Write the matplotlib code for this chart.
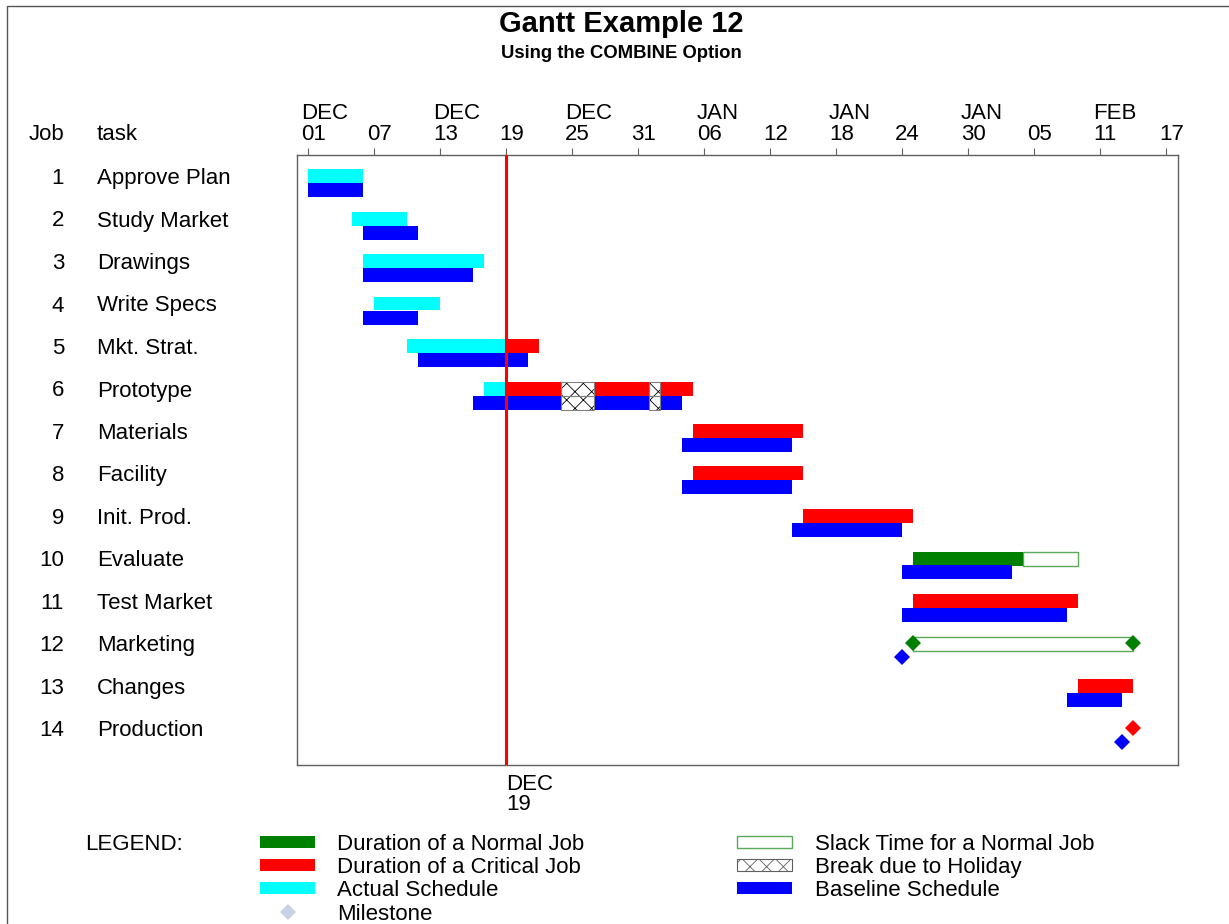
import matplotlib
matplotlib.use('Agg')
import matplotlib.pyplot as plt
import matplotlib.dates as mdates
from matplotlib.patches import Rectangle
from matplotlib.lines import Line2D
from matplotlib.transforms import blended_transform_factory, ScaledTranslation

plt.rcParams['font.family'] = ['Liberation Sans', 'DejaVu Sans']
plt.rcParams['hatch.linewidth'] = 0.6

jobs = list(range(1, 15))
tasks = ['Approve Plan', 'Study Market', 'Drawings', 'Write Specs', 'Mkt. Strat.',
         'Prototype', 'Materials', 'Facility', 'Init. Prod.', 'Evaluate',
         'Test Market', 'Marketing', 'Changes', 'Production']

# actual schedule (cyan), up to the time-now line
act_start = ['2003-12-01', '2003-12-05', '2003-12-06', '2003-12-07', '2003-12-10',
             '2003-12-17', None, None, None, None, None, None, None, None]
act_end = ['2003-12-06', '2003-12-10', '2003-12-17', '2003-12-13', '2003-12-19',
           '2003-12-19', None, None, None, None, None, None, None, None]

# remaining schedule (red = critical, green = normal)
sched_start = [None, None, None, None, '2003-12-19', '2003-12-19', '2004-01-05',
               '2004-01-05', '2004-01-15', '2004-01-25', '2004-01-25', '2004-01-25',
               '2004-02-09', '2004-02-14']
sched_end = [None, None, None, None, '2003-12-22', '2004-01-05', '2004-01-15',
             '2004-01-15', '2004-01-25', '2004-02-04', '2004-02-09', '2004-01-25',
             '2004-02-14', '2004-02-14']
critical = [True, True, True, True, True, True, True, True, True, False, True, False,
            True, True]
slack_end = [None, None, None, None, None, None, None, None, None, '2004-02-09',
             None, '2004-02-14', None, None]

# baseline schedule (blue)
base_start = ['2003-12-01', '2003-12-06', '2003-12-06', '2003-12-06', '2003-12-11',
              '2003-12-16', '2004-01-04', '2004-01-04', '2004-01-14', '2004-01-24',
              '2004-01-24', '2004-01-24', '2004-02-08', '2004-02-13']
base_end = ['2003-12-06', '2003-12-11', '2003-12-16', '2003-12-11', '2003-12-21',
            '2004-01-04', '2004-01-14', '2004-01-14', '2004-01-24', '2004-02-03',
            '2004-02-08', '2004-01-24', '2004-02-13', '2004-02-13']

holidays = [('2003-12-24', '2003-12-27'), ('2004-01-01', '2004-01-02')]
timenow = '2003-12-19'
axis_start = '2003-11-30'
tick_start = '2003-12-01'

d = mdates.datestr2num
GREEN, RED, CYAN, BLUE = '#008000', '#ff0000', '#00ffff', '#0000ff'
SLACK = '#5aaa5a'
FRAME = '#606060'

fig = plt.figure(figsize=(12.29, 9.24), dpi=100)
W, H = 1229, 924
ax = fig.add_axes([297 / W, 1 - 765 / H, 881 / W, 610 / H])
pax = fig.add_axes([0, 0, 1, 1], facecolor='none')
pax.set_xlim(0, W)
pax.set_ylim(H, 0)
pax.axis('off')

down = ScaledTranslation(0, -2.5 / 100, fig.dpi_scale_trans)
h = 14 / 42.5  # bar height in row units


def hatch_over(y, s, e):
    for hs, he in holidays:
        a, b = max(d(s), d(hs)), min(d(e), d(he))
        if b > a:
            ax.add_patch(Rectangle((a, y - h / 2), b - a, h, facecolor='white',
                                   edgecolor='black', hatch='xx', lw=0, zorder=3))
            ax.add_patch(Rectangle((a, y - h / 2), b - a, h, facecolor='none',
                                   edgecolor='#808080', lw=0.8, zorder=3.5))


for i, job in enumerate(jobs):
    top = job
    bot = job + h
    # actual
    if act_start[i]:
        ax.barh(top, d(act_end[i]) - d(act_start[i]), left=d(act_start[i]), height=h,
                color=CYAN, lw=0, zorder=2)
    # slack
    if slack_end[i]:
        ax.barh(top, d(slack_end[i]) - d(sched_end[i]), left=d(sched_end[i]), height=h,
                facecolor='white', edgecolor=SLACK, lw=1.0, zorder=2)
    # scheduled
    if sched_start[i]:
        col = RED if critical[i] else GREEN
        if sched_start[i] == sched_end[i]:
            xs = [d(sched_start[i])]
            if slack_end[i]:
                xs.append(d(slack_end[i]))
            ax.plot(xs, [top] * len(xs), 'D', color=col, ms=8.3, mew=0, zorder=4)
        else:
            ax.barh(top, d(sched_end[i]) - d(sched_start[i]), left=d(sched_start[i]),
                    height=h, color=col, lw=0, zorder=2)
            hatch_over(top, sched_start[i], sched_end[i])
    # baseline
    if base_start[i] == base_end[i]:
        ax.plot([d(base_start[i])], [bot], 'D', color=BLUE, ms=8.3, mew=0, zorder=4)
    else:
        ax.barh(bot, d(base_end[i]) - d(base_start[i]), left=d(base_start[i]), height=h,
                color=BLUE, lw=0, zorder=2)
        hatch_over(bot, base_start[i], base_end[i])

ax.axvline(d(timenow), color=RED, lw=2.2, zorder=5)

ax.set_xlim(d(axis_start), d(axis_start) + 80.1)
ax.set_ylim(1 + (765 - 176) / 42.5, 1 - 21 / 42.5)
ax.set_yticks([])
for sp in ax.spines.values():
    sp.set_color(FRAME)
    sp.set_linewidth(1.0)

ticks = [d(tick_start) + 6 * k for k in range(14)]
labels = []
for k, t in enumerate(ticks):
    dt = mdates.num2date(t)
    mon = dt.strftime('%b').upper() if k % 2 == 0 else ''
    labels.append(mon + '\n' + dt.strftime('%d'))
ax.xaxis.tick_top()
ax.set_xticks(ticks)
ax.set_xticklabels(labels, fontsize=16, ha='left', linespacing=1.0)
ax.tick_params(axis='x', direction='out', length=5, width=0.8, color=FRAME, pad=2.5)
off = ScaledTranslation(-7 / 100, 0, fig.dpi_scale_trans)
for lab in ax.get_xticklabels():
    lab.set_transform(lab.get_transform() + off)

# left columns
tr = blended_transform_factory(pax.transData, ax.transData) + down
hy = 1 + (132 - 176) / 42.5
ax.text(64, hy, 'Job', transform=tr, ha='right', va='center', fontsize=16)
ax.text(97, hy, 'task', transform=tr, ha='left', va='center', fontsize=16)
for job, task in zip(jobs, tasks):
    ax.text(64, job, str(job), transform=tr, ha='right', va='center', fontsize=16)
    ax.text(97, job, task, transform=tr, ha='left', va='center', fontsize=16)

# time-now label
tr2 = blended_transform_factory(ax.transData, pax.transData) + down
ax.text(d(timenow), 771, 'DEC\n19', transform=tr2, ha='left', va='top',
        fontsize=16, linespacing=1.0)

# titles
ptr = pax.transData + down
pax.text(621, 22, 'Gantt Example 12', ha='center', va='center', fontsize=21,
         fontweight='bold', transform=ptr)
pax.text(621, 51, 'Using the COMBINE Option', ha='center', va='center', fontsize=13.3,
         fontweight='bold', transform=ptr)

# page border
pax.add_line(Line2D([7, 7, W], [H, 6, 6], color='#555555', lw=1.0))

# legend
pax.text(85, 842, 'LEGEND:', ha='left', va='center', fontsize=16, transform=ptr)
leg1 = [('Duration of a Normal Job', dict(facecolor=GREEN, lw=0)),
        ('Duration of a Critical Job', dict(facecolor=RED, lw=0)),
        ('Actual Schedule', dict(facecolor=CYAN, lw=0))]
leg2 = [('Slack Time for a Normal Job', dict(facecolor='white', edgecolor=SLACK, lw=1.0)),
        ('Break due to Holiday', dict(facecolor='white', edgecolor='#606060', hatch='xx', lw=0.8)),
        ('Baseline Schedule', dict(facecolor=BLUE, lw=0))]
rows_y = [842, 865, 888, 912]
for (txt, st), y in zip(leg1, rows_y):
    pax.add_patch(Rectangle((260, y - 6), 55, 12, **st))
    pax.text(337, y, txt, ha='left', va='center', fontsize=16, transform=ptr)
pax.plot([288], [rows_y[3]], 'D', color='#c8d2e4', ms=8, mew=0)
pax.text(337, rows_y[3], 'Milestone', ha='left', va='center', fontsize=16, transform=ptr)
for (txt, st), y in zip(leg2, rows_y):
    pax.add_patch(Rectangle((737, y - 6), 55, 12, **st))
    pax.text(815, y, txt, ha='left', va='center', fontsize=16, transform=ptr)

fig.savefig('out.png', dpi=100)
